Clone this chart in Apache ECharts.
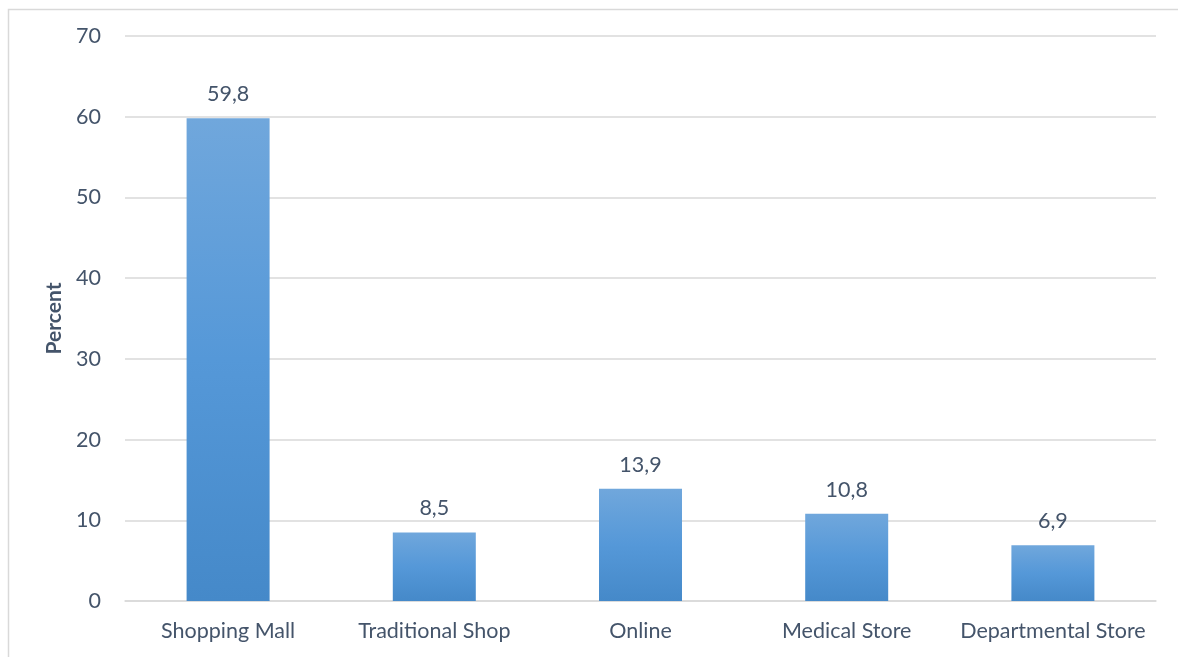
<!DOCTYPE html>
<html>
<head>
<meta charset="utf-8">
<script src="https://cdn.jsdelivr.net/npm/echarts@6/dist/echarts.min.js"></script>
<style>
  html, body { margin: 0; padding: 0; background: #ffffff; }
  #chart { width: 1178px; height: 657px; }
</style>
</head>
<body>
<div id="chart"></div>
<script>
// Where people buy: share of respondents per outlet type
const categories = ['Shopping Mall', 'Traditional Shop', 'Online', 'Medical Store', 'Departmental Store'];
const percentValues = [59.8, 8.5, 13.9, 10.8, 6.9];
const yTicks = { min: 0, max: 70, interval: 10 };

const textColor = '#44546a';
const fontFamily = 'Lato, "Open Sans", "Liberation Sans", sans-serif';

const chart = echarts.init(document.getElementById('chart'), null, { renderer: 'canvas' });

chart.setOption({
  animation: false,
  backgroundColor: '#ffffff',
  graphic: [{
    type: 'rect',
    left: 6, top: 7,
    shape: { width: 1200, height: 700 },
    style: { fill: 'none', stroke: '#d9d9d9', lineWidth: 1.5 },
    z: -1
  }],
  grid: { left: 125, right: 22, top: 36, bottom: 56, containLabel: false },
  xAxis: {
    type: 'category',
    data: categories,
    axisTick: { show: false },
    axisLine: { show: true, lineStyle: { color: '#d9d9d9', width: 1.5 } },
    axisLabel: { color: textColor, fontSize: 21.5, fontFamily, margin: 19, interval: 0 }
  },
  yAxis: {
    type: 'value',
    min: yTicks.min, max: yTicks.max, interval: yTicks.interval,
    name: 'Percent',
    nameLocation: 'middle',
    nameGap: 58,
    nameRotate: 90,
    nameTextStyle: { color: textColor, fontSize: 21, fontWeight: 'bold', fontFamily },
    axisLine: { show: false },
    axisTick: { show: false },
    axisLabel: { color: textColor, fontSize: 21.5, fontFamily, margin: 24 },
    splitLine: { lineStyle: { color: '#d9d9d9', width: 1.5 } }
  },
  series: [{
    type: 'bar',
    data: percentValues,
    barWidth: 83,
    itemStyle: {
      color: new echarts.graphic.LinearGradient(0, 0, 0, 1, [
        { offset: 0, color: '#70a7dc' },
        { offset: 0.5, color: '#5598d8' },
        { offset: 1, color: '#4589c9' }
      ])
    },
    label: {
      show: true,
      position: 'top',
      distance: 13,
      color: textColor,
      fontSize: 21.5,
      fontFamily,
      formatter: p => String(p.value).replace('.', ',')
    }
  }]
});
</script>
</body>
</html>
